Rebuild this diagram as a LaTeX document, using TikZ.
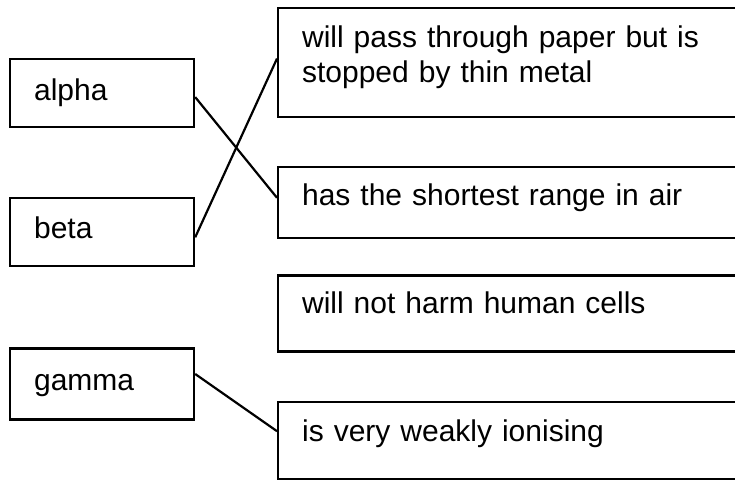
\documentclass[tikz,border=0pt]{standalone}
\usepackage{fontspec}
\setmainfont{Liberation Sans}
\usetikzlibrary{positioning}

\begin{document}
\begin{tikzpicture}[
    box/.style={draw, line width=1.1pt, anchor=north west, align=left, inner xsep=12pt, inner ysep=0pt, font=\fontsize{15}{17.5}\selectfont},
    leftbox/.style={box, text width=68pt},
    rightbox/.style={box, text width=216pt},
    link/.style={line width=1.1pt}
]
\useasboundingbox (0,0) rectangle (367.5pt,-240.5pt);

% Nodes
\node[leftbox, text height=20.5pt, text depth=13.5pt] (alpha) at (4.5pt,-29pt) {alpha};
\node[leftbox, text height=20pt, text depth=14pt, below=34.5pt of alpha] (beta) {beta};
\node[leftbox, text height=21pt, text depth=14.5pt, below=40pt of beta] (gamma) {gamma};

\node[rightbox, text height=19.5pt, text depth=35pt] (paper) at (138.5pt,-3.5pt) {will pass through paper but is\\stopped by thin metal};
\node[rightbox, text height=19pt, text depth=16.5pt, below=24pt of paper] (shortest) {has the shortest range in air};
\node[rightbox, text height=19pt, text depth=19pt, below=17.5pt of shortest] (harm) {will not harm human cells};
\node[rightbox, text height=20pt, text depth=18.5pt, below=24pt of harm] (ionising) {is very weakly ionising};

% Links
\draw[link] ([yshift=-2pt]alpha.east) -- ([yshift=2.5pt]shortest.west);
\draw[link] ([yshift=-2.5pt]beta.east) -- ([yshift=2pt]paper.west);
\draw[link] ([yshift=5pt]gamma.east) -- ([yshift=4.5pt]ionising.west);

\end{tikzpicture}
\end{document}
